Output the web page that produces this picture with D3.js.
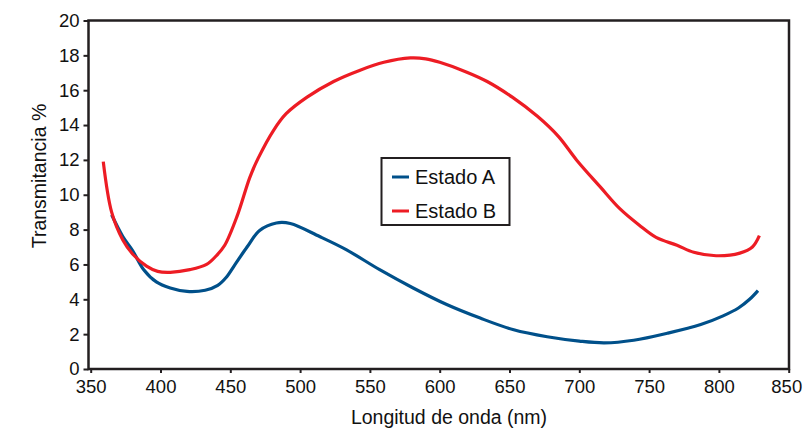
<!DOCTYPE html>
<html><head><meta charset="utf-8">
<script src="https://cdn.jsdelivr.net/npm/d3@7"></script>
<style>body{margin:0;background:#fff}svg text{font-family:"Liberation Sans",Arial,sans-serif;fill:#111}</style>
</head><body>
<svg id="c" width="803" height="430"></svg>
<script>
const xTicks = [350,400,450,500,550,600,650,700,750,800,850];
const yTicks = [0,2,4,6,8,10,12,14,16,18,20];
const seriesNames = ["Estado A","Estado B"];
const wavelengthA = [365,373,380,388,397,407,419,432,441,447,453,462,471,483,493,514,533,557,581,605,629,653,677,700,718,739,763,787,803,814,822,828];
const valuesA     = [8.85,7.6,6.8,5.7,5.0,4.65,4.45,4.52,4.8,5.25,5.95,7.0,7.95,8.38,8.35,7.6,6.85,5.7,4.65,3.7,2.92,2.25,1.85,1.6,1.5,1.65,2.05,2.55,3.05,3.5,4.0,4.5];
const wavelengthB = [359,365,373,380,390,398,407,421,433,440,446,455,464,470,481,490,505,524,543,560,579,590,600,619,634,652,670,685,698,715,729,743,755,770,782,798,815,824,829];
const valuesB     = [11.9,9.0,7.4,6.6,5.9,5.6,5.55,5.7,6.0,6.5,7.1,8.8,11.0,12.1,13.7,14.65,15.6,16.5,17.15,17.6,17.85,17.8,17.6,17.05,16.5,15.6,14.5,13.35,12.0,10.45,9.2,8.25,7.55,7.1,6.7,6.5,6.65,7.0,7.65];
const colors = ["#00508a","#ed1c24"];

const svg = d3.select("#c");
const L = 88.5, R = 789, T = 20.5, B = 369;
const x = d3.scaleLinear().domain([350,850]).range([90.7,788.7]);
const y = d3.scaleLinear().domain([0,20]).range([B,T]);

// y axis
const ya = svg.append("g").attr("transform",`translate(${L},0)`)
  .call(d3.axisLeft(y).tickValues(yTicks).tickSize(5).tickPadding(4));
ya.select(".domain").remove();
ya.selectAll("line").attr("stroke","#231f20").attr("stroke-width",2);
ya.selectAll("text").attr("font-size",18.5).attr("fill","#111");

// x axis
const xa = svg.append("g").attr("transform",`translate(0,${B})`)
  .call(d3.axisBottom(x).tickValues(xTicks).tickSize(4).tickPadding(7));
xa.select(".domain").remove();
xa.selectAll("line").attr("stroke","#231f20").attr("stroke-width",2);
xa.selectAll("text").attr("font-size",18.5).attr("fill","#111");
// keep the last label inside the picture
xa.selectAll(".tick").filter(d=>d===850).select("text").attr("text-anchor","end").attr("dx",13);

// frame
svg.append("rect").attr("x",L).attr("y",T).attr("width",R-L).attr("height",B-T)
  .attr("fill","none").attr("stroke","#231f20").attr("stroke-width",2.5);

const line = d3.line().x(d=>x(d[0])).y(d=>y(d[1])).curve(d3.curveCatmullRom.alpha(0.5));
const dataA = wavelengthA.map((w,i)=>[w,valuesA[i]]);
const dataB = wavelengthB.map((w,i)=>[w,valuesB[i]]);
svg.append("path").datum(dataA).attr("d",line).attr("fill","none").attr("stroke",colors[0]).attr("stroke-width",3.2);
svg.append("path").datum(dataB).attr("d",line).attr("fill","none").attr("stroke",colors[1]).attr("stroke-width",3.2);

// axis titles
svg.append("text").attr("x",449).attr("y",424).attr("text-anchor","middle").attr("font-size",19.5).text("Longitud de onda (nm)");
svg.append("text").attr("transform","translate(46,176) rotate(-90)").attr("text-anchor","middle").attr("font-size",19.5).text("Transmitancia %");

// legend
const lg = svg.append("g");
lg.append("rect").attr("x",381.5).attr("y",158).attr("width",128).attr("height",67)
  .attr("fill","#fff").attr("stroke","#231f20").attr("stroke-width",2);
seriesNames.forEach((n,i)=>{
  const yy = 177 + i*34;
  lg.append("line").attr("x1",392).attr("x2",409).attr("y1",yy).attr("y2",yy).attr("stroke",colors[i]).attr("stroke-width",3);
  lg.append("text").attr("x",415).attr("y",yy+7).attr("font-size",20).text(n);
});
</script>
</body></html>
